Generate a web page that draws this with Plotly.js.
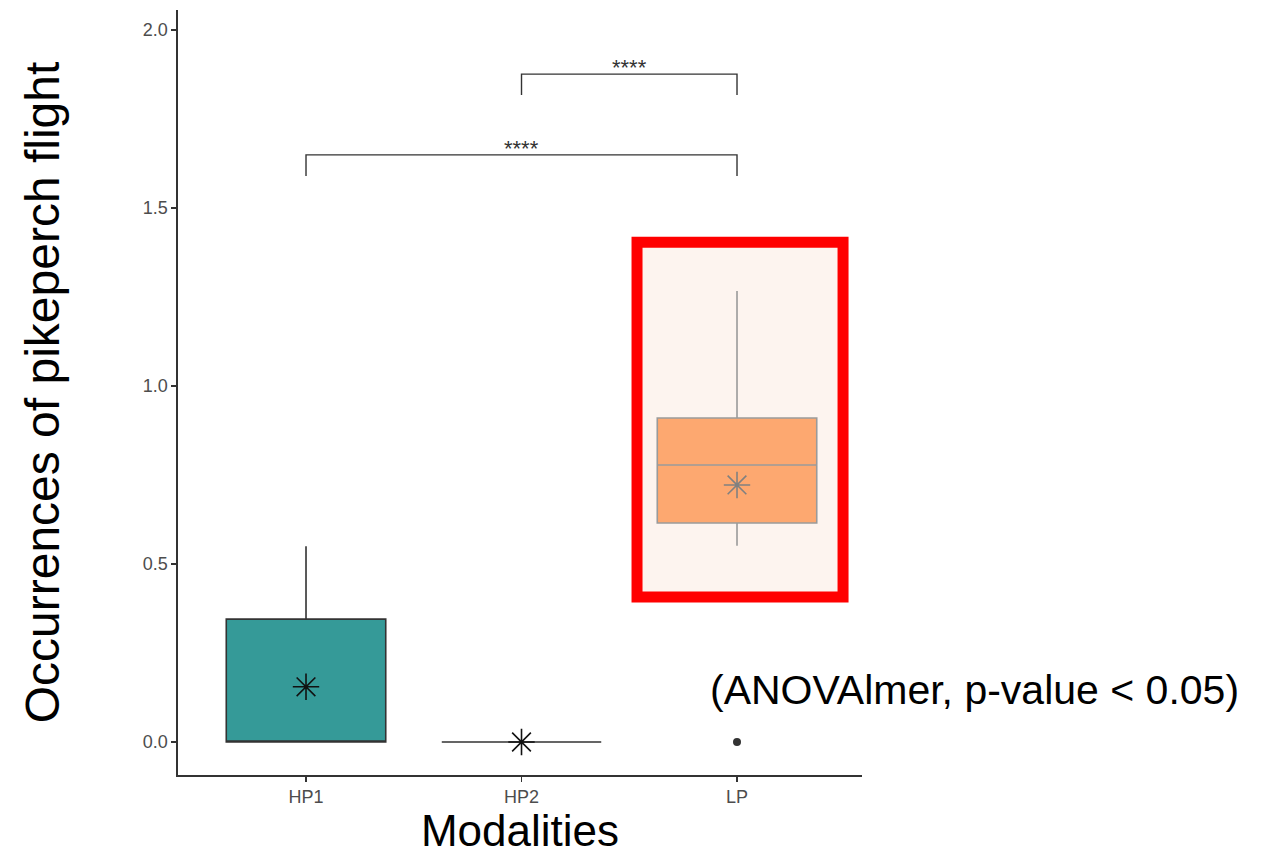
<!DOCTYPE html>
<html>
<head>
<meta charset="utf-8">
<script src="https://cdn.plot.ly/plotly-3.0.1.min.js"></script>
<style>html,body{margin:0;padding:0;background:#fff;}#chart{width:1262px;height:855px;}</style>
</head>
<body>
<div id="chart"></div>
<script>
// ---- data ----
const categories = ["HP1", "HP2", "LP"];
const q1 = [0, 0, 0.615];
const median = [0, 0, 0.778];
const q3 = [0.345, 0, 0.910];
const lowerFence = [0, 0, 0.551];
const upperFence = [0.55, 0, 1.267];
const means = [0.155, 0, 0.722];
const outlierCats = ["LP"];
const outlierVals = [0];
const fillColors = ["#359a98", "#ffffff", "#fda870"];
const lineColors = ["#333333", "#333333", "#9a9a9a"];
const meanColors = ["#111111", "#111111", "#808080"];
const yTickVals = [0, 0.5, 1.0, 1.5, 2.0];
const yTickText = ["0.0", "0.5", "1.0", "1.5", "2.0"];
// comparisons: [from, to, y of bar, label]
const compFrom = ["HP2", "HP1"];
const compTo = ["LP", "LP"];
const compY = [1.876, 1.649];
const compLabel = ["****", "****"];
const highlightCat = "LP";
const highlightRange = [0.407, 1.404];

const traces = [];
categories.forEach((c, i) => {
  traces.push({
    type: "box",
    x: [c],
    q1: [q1[i]], median: [median[i]], q3: [q3[i]],
    lowerfence: [lowerFence[i]], upperfence: [upperFence[i]],
    width: 0.74,
    whiskerwidth: 0,
    fillcolor: fillColors[i],
    line: {color: lineColors[i], width: 1.6},
    boxpoints: false,
    showlegend: false,
    hoverinfo: "skip"
  });
});
traces.push({
  type: "scatter", mode: "markers",
  x: categories, y: means,
  marker: {symbol: "asterisk-open", size: 22, color: meanColors, line: {color: meanColors, width: 1.6}},
  showlegend: false, hoverinfo: "skip"
});
traces.push({
  type: "scatter", mode: "markers",
  x: outlierCats, y: outlierVals,
  marker: {symbol: "circle", size: 8, color: "#333333"},
  showlegend: false, hoverinfo: "skip"
});

const shapes = [];
const annotations = [];
const hi = categories.indexOf(highlightCat);
shapes.push({
  type: "rect", xref: "x", yref: "y", layer: "below",
  x0: hi - 0.464, x1: hi + 0.492, y0: highlightRange[0], y1: highlightRange[1],
  fillcolor: "#fdf4ef", line: {color: "#ff0000", width: 11}
});
compFrom.forEach((f, k) => {
  const a = categories.indexOf(f), b = categories.indexOf(compTo[k]);
  const yb = compY[k], yd = yb - 0.059;
  shapes.push({type: "path", xref: "x", yref: "y",
    path: `M ${a} ${yd} L ${a} ${yb} L ${b} ${yb} L ${b} ${yd}`,
    line: {color: "#333333", width: 1.4}});
  annotations.push({xref: "x", yref: "y", x: (a + b) / 2, y: yb, text: compLabel[k],
    showarrow: false, yanchor: "bottom", yshift: -8,
    font: {family: "Liberation Sans, Arial, sans-serif", size: 22, color: "#333333"}});
});
annotations.push({xref: "paper", yref: "paper", x: 0.775, y: 0.111, xanchor: "left", yanchor: "middle",
  text: "(ANOVAlmer, p-value < 0.05)", showarrow: false,
  font: {family: "Liberation Sans, Arial, sans-serif", size: 41, color: "#000000"}});

const layout = {
  width: 1262, height: 855,
  margin: {l: 178, r: 400, t: 10, b: 80},
  paper_bgcolor: "#ffffff", plot_bgcolor: "#ffffff",
  boxmode: "overlay",
  showlegend: false,
  font: {family: "Liberation Sans, Arial, sans-serif"},
  xaxis: {
    type: "category", categoryorder: "array", categoryarray: categories,
    range: [-0.594, 2.58], showgrid: false, zeroline: false,
    showline: true, linecolor: "#333333", linewidth: 1.6,
    ticks: "outside", ticklen: 5, tickcolor: "#333333", tickwidth: 1.4,
    tickfont: {size: 18, color: "#4d4d4d"},
    title: {text: "Modalities", font: {size: 44, color: "#000000"}, standoff: 12}
  },
  yaxis: {
    range: [-0.0927, 2.056], showgrid: false, zeroline: false,
    showline: true, linecolor: "#333333", linewidth: 1.6,
    tickvals: yTickVals, ticktext: yTickText,
    ticks: "outside", ticklen: 5, tickcolor: "#333333", tickwidth: 1.4,
    tickfont: {size: 18, color: "#4d4d4d"},
    title: {text: "Occurrences of pikeperch flight", font: {size: 48, color: "#000000"}, standoff: 68}
  },
  shapes: shapes,
  annotations: annotations
};
Plotly.newPlot("chart", traces, layout, {displayModeBar: false, staticPlot: true});
</script>
</body>
</html>
